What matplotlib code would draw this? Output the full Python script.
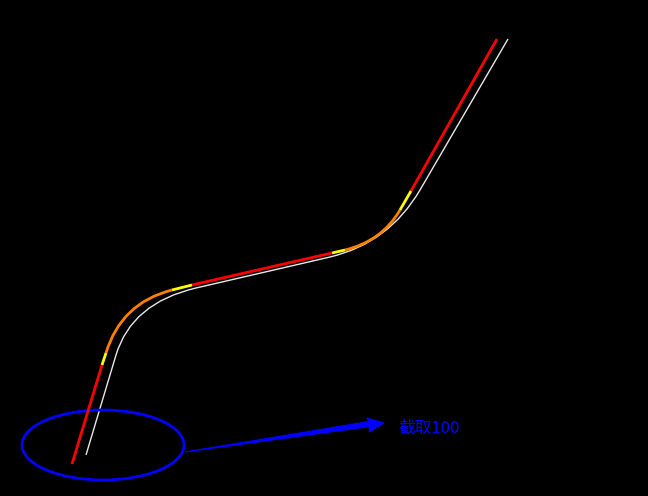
import matplotlib
matplotlib.use('Agg')
import matplotlib.pyplot as plt
from matplotlib.patches import Ellipse, Polygon, PathPatch
from matplotlib.path import Path

plt.rcParams['font.family'] = ['Noto Sans CJK SC', 'DejaVu Sans']

# Track pieces in image pixel coordinates (y pointing down)
# straight pieces: (start, end); curved pieces: (start, control, end)
red_lines = [[(72, 464), (102, 365)], [(192, 285), (332, 253)], [(411, 191), (497, 39)]]
yellow_lines = [[(102, 365), (106, 353)], [(172, 290), (192, 285)],
                [(332, 253), (345, 250)], [(400, 210), (411, 191)]]
orange_curves = [[(106, 353), (121, 303), (172, 290)], [(345, 250), (382, 241), (400, 210)]]

white_pts = [(86, 455), (116, 355), (131.6, 303), (196, 288), (330, 257), (389, 243), (420, 190), (508, 39)]
white_codes = [Path.MOVETO, Path.LINETO, Path.CURVE3, Path.CURVE3,
               Path.LINETO, Path.CURVE3, Path.CURVE3, Path.LINETO]

arrow_pts = [(185, 452), (370, 426.5), (369, 432), (384, 423), (367, 418), (369, 421.5)]

fig = plt.figure(figsize=(6.48, 4.96), dpi=100, facecolor='black')
ax = fig.add_axes([0, 0, 1, 1])
ax.set_facecolor('black')
ax.set_xlim(0, 648)
ax.set_ylim(496, 0)
ax.axis('off')

ax.add_patch(PathPatch(Path(white_pts, white_codes), fill=False, edgecolor='#e8e8e8', lw=1.0))

for seg in red_lines:
    ax.plot(*zip(*seg), color='#ff0000', lw=2.0, solid_capstyle='butt')
for seg in yellow_lines:
    ax.plot(*zip(*seg), color='#ffff00', lw=2.0, solid_capstyle='butt')
for seg in orange_curves:
    p = Path(seg, [Path.MOVETO, Path.CURVE3, Path.CURVE3])
    ax.add_patch(PathPatch(p, fill=False, edgecolor='#ff8000', lw=2.0, capstyle='butt'))

# Annotation
ax.add_patch(Ellipse((103, 445), 162, 70, fill=False, edgecolor='#0000ff', lw=2))
ax.add_patch(Polygon(arrow_pts, closed=True, facecolor='#0000ff', edgecolor='#0000ff', lw=0.8))
ax.text(398, 428, '截取100', color='#0000ff', fontsize=12, va='center', ha='left')

fig.savefig('out.png', dpi=100, facecolor='black')
